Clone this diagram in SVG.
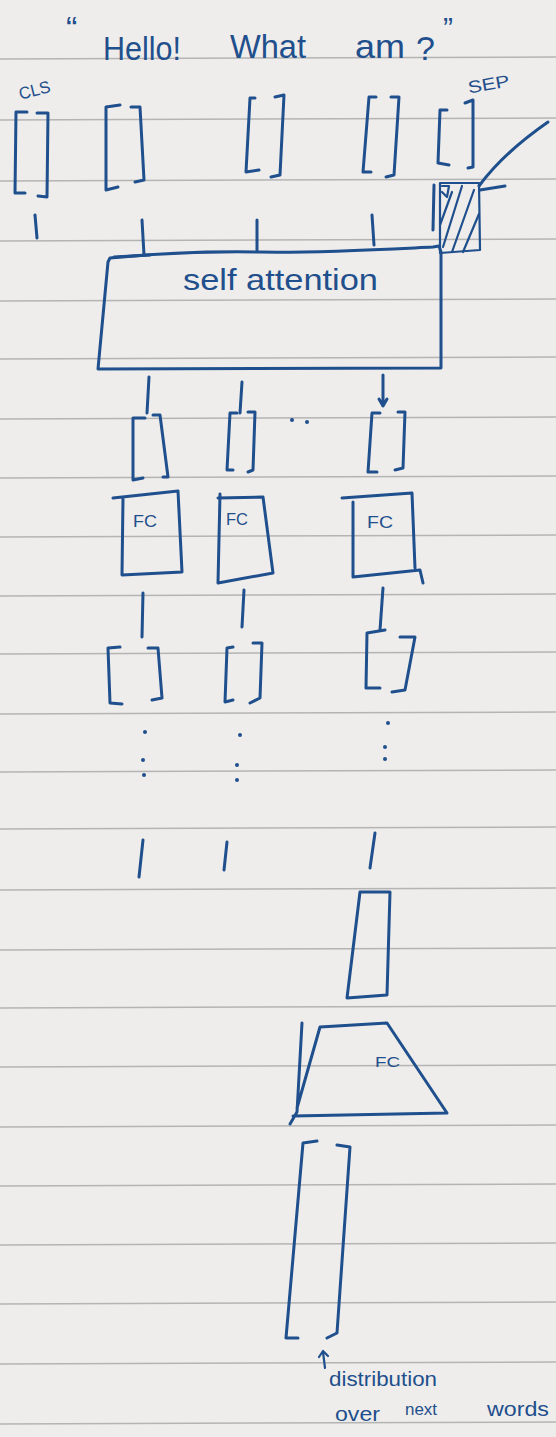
<svg xmlns="http://www.w3.org/2000/svg" width="556" height="1437" viewBox="0 0 556 1437">
<style>
.ink{fill:none;stroke:#1f4f8c;stroke-width:3;stroke-linecap:round;stroke-linejoin:round}
.thin{fill:none;stroke:#1f4f8c;stroke-width:2.2;stroke-linecap:round;stroke-linejoin:round}
.dot{fill:#1f4f8c}
.rule{stroke:#b4b4b4;stroke-width:1.5}
.txt{fill:#1f4f8c;font-family:"Liberation Sans","DejaVu Sans",Arial,sans-serif}
</style>
<rect width="556" height="1437" fill="#eeedeb"/>
<g id="paper-lines">
<line class="rule" x1="0" y1="59" x2="556" y2="57"/>
<line class="rule" x1="0" y1="120" x2="556" y2="118"/>
<line class="rule" x1="0" y1="181" x2="556" y2="179"/>
<line class="rule" x1="0" y1="241" x2="556" y2="239"/>
<line class="rule" x1="0" y1="301" x2="556" y2="299"/>
<line class="rule" x1="0" y1="359" x2="556" y2="357"/>
<line class="rule" x1="0" y1="419" x2="556" y2="417"/>
<line class="rule" x1="0" y1="478" x2="556" y2="476"/>
<line class="rule" x1="0" y1="537" x2="556" y2="535"/>
<line class="rule" x1="0" y1="596" x2="556" y2="594"/>
<line class="rule" x1="0" y1="654" x2="556" y2="652"/>
<line class="rule" x1="0" y1="714" x2="556" y2="712"/>
<line class="rule" x1="0" y1="772" x2="556" y2="770"/>
<line class="rule" x1="0" y1="829" x2="556" y2="827"/>
<line class="rule" x1="0" y1="890" x2="556" y2="888"/>
<line class="rule" x1="0" y1="950" x2="556" y2="948"/>
<line class="rule" x1="0" y1="1008" x2="556" y2="1006"/>
<line class="rule" x1="0" y1="1067" x2="556" y2="1065"/>
<line class="rule" x1="0" y1="1127" x2="556" y2="1125"/>
<line class="rule" x1="0" y1="1186" x2="556" y2="1184"/>
<line class="rule" x1="0" y1="1245" x2="556" y2="1243"/>
<line class="rule" x1="0" y1="1304" x2="556" y2="1302"/>
<line class="rule" x1="0" y1="1364" x2="556" y2="1362"/>
<line class="rule" x1="0" y1="1424" x2="556" y2="1422"/>
</g>

<g id="sentence">
<text class="txt" font-size="34" x="66" y="40">“</text>
<text class="txt" font-size="34" x="103" y="60" textLength="78" lengthAdjust="spacingAndGlyphs">Hello!</text>
<text class="txt" font-size="34" x="230" y="58" textLength="76" lengthAdjust="spacingAndGlyphs">What</text>
<text class="txt" font-size="34" x="355" y="58" textLength="50" lengthAdjust="spacingAndGlyphs">am</text>
<text class="txt" font-size="34" x="416" y="60">?</text>
<text class="txt" font-size="30" x="443" y="38">”</text>
</g>

<g id="cls-token">
<text class="txt" font-size="17" x="18" y="96" textLength="32" lengthAdjust="spacingAndGlyphs" transform="rotate(-14 34 88)">CLS</text>
<path class="ink" d="M27,112 L16,112 L15,193 L25,193 M37,113 L48,113 L47,197 L38,196"/>
</g>
<g id="token-hello">
<path class="ink" d="M120,105 L106,107 L106,190 L118,187 M131,107 L140,107 L144,180 L135,182"/>
</g>
<g id="token-what">
<path class="ink" d="M255,98 L250,98 L246,172 L259,170 M275,97 L284,95 L280,175 L271,177"/>
</g>
<g id="token-am">
<path class="ink" d="M376,97 L369,97 L363,172 L371,172 M391,97 L399,97 L394,175 L386,177"/>
</g>
<g id="sep-token">
<text class="txt" font-size="17" x="467" y="90" textLength="42" lengthAdjust="spacingAndGlyphs" transform="rotate(-10 488 80)">SEP</text>
<path class="ink" d="M447,110 L440,110 L438,163 L449,165 M465,103 L473,100 L473,167 L468,168"/>
</g>
<g id="sep-hatched">
<path class="ink" d="M434,185 L433,230"/>
<path class="thin" d="M440,183 L440,253 L480,250 L479,183 Z"/>
<path class="thin" d="M442,186 L449,186 L447,197 L442,192"/>
<path class="thin" d="M443,247 L462,186 M452,252 L474,190 M463,252 L479,214 M440,225 L452,192"/>
<path class="ink" d="M548,122 C525,138 498,160 479,186"/>
<path class="ink" d="M480,190 L505,186"/>
</g>

<g id="self-attention">
<path class="ink" d="M110,258 C150,254 200,251 260,252 C320,253 390,249 433,247 L439,246 L441,252 L441,368 L98,369 L108,262 Z"/>
<path class="ink" d="M114,257 L150,255"/>
<text class="txt" font-size="30" x="183" y="290" textLength="195" lengthAdjust="spacingAndGlyphs">self attention</text>
</g>

<g id="vec-1">
<path class="ink" d="M145,418 L133,418 L133,480 L143,478 M153,415 L160,415 L168,477 L163,477"/>
</g>
<g id="vec-2">
<path class="ink" d="M237,413 L230,413 L227,470 L233,470 M248,412 L255,412 L253,470 L248,472"/>
</g>
<g id="vec-dots">
<circle class="dot" cx="292" cy="420" r="2"/>
<circle class="dot" cx="307" cy="422" r="2"/>
</g>
<g id="vec-3">
<path class="ink" d="M380,413 L372,413 L368,472 L377,472 M398,412 L405,412 L403,468 L395,470"/>
</g>

<g id="fc-1">
<path class="ink" d="M113,498 L178,491 L182,572 L122,575 L123,498"/>
<text class="txt" font-size="17" x="133" y="527" textLength="24" lengthAdjust="spacingAndGlyphs">FC</text>
</g>
<g id="fc-2">
<path class="ink" d="M218,498 L263,497 L273,573 L218,583 L220,494"/>
<text class="txt" font-size="16" x="226" y="525" textLength="22" lengthAdjust="spacingAndGlyphs">FC</text>
</g>
<g id="fc-3">
<path class="ink" d="M342,498 L412,493 L415,568 M353,502 L353,577 L420,570 L423,583"/>
<text class="txt" font-size="17" x="367" y="528" textLength="26" lengthAdjust="spacingAndGlyphs">FC</text>
</g>

<g id="out-1">
<path class="ink" d="M120,647 L108,648 L110,703 L122,704 M148,648 L158,648 L162,698 L152,700"/>
</g>
<g id="out-2">
<path class="ink" d="M233,647 L227,648 L225,702 L233,700 M253,643 L262,643 L260,698 L250,703"/>
</g>
<g id="out-3">
<path class="ink" d="M385,630 L367,633 L366,688 L380,688 M400,637 L415,637 L405,690 L392,692"/>
</g>

<g id="ellipsis-cols">
<circle class="dot" cx="145" cy="732" r="2"/>
<circle class="dot" cx="143" cy="760" r="2"/>
<circle class="dot" cx="144" cy="775" r="2"/>
<circle class="dot" cx="240" cy="735" r="2"/>
<circle class="dot" cx="237" cy="765" r="2"/>
<circle class="dot" cx="237" cy="780" r="2"/>
<circle class="dot" cx="388" cy="723" r="2"/>
<circle class="dot" cx="385" cy="747" r="2"/>
<circle class="dot" cx="385" cy="759" r="2"/>
</g>

<g id="final-vec">
<path class="ink" d="M360,892 L390,892 L387,995 L347,998 Z"/>
</g>

<g id="fc-final">
<path class="ink" d="M320,1027 L387,1023 L447,1113 L293,1116 M320,1027 L297,1108 M302,1023 L297,1112 L290,1124"/>
<text class="txt" font-size="15" x="375" y="1067" textLength="25" lengthAdjust="spacingAndGlyphs">FC</text>
</g>

<g id="distribution">
<path class="ink" d="M317,1141 L303,1143 L286,1338 L298,1338 M337,1145 L350,1147 L337,1333 L327,1338"/>
<path class="thin" d="M325,1368 L323,1352 M319,1357 L323,1351 L328,1356"/>
<text class="txt" font-size="20" x="329" y="1386" textLength="108" lengthAdjust="spacingAndGlyphs">distribution</text>
<text class="txt" font-size="20" x="335" y="1421" textLength="45" lengthAdjust="spacingAndGlyphs">over</text>
<text class="txt" font-size="16" x="405" y="1415" textLength="32" lengthAdjust="spacingAndGlyphs">next</text>
<text class="txt" font-size="20" x="487" y="1416" textLength="62" lengthAdjust="spacingAndGlyphs">words</text>
</g>

<g id="connectors">
<path class="ink" d="M35,215 L37,238"/>
<path class="ink" d="M142,220 L144,255"/>
<path class="ink" d="M257,220 L257,250"/>
<path class="ink" d="M372,215 L374,245"/>
<path class="ink" d="M149,377 L147,413"/>
<path class="ink" d="M242,382 L240,413"/>
<path class="ink" d="M383,375 L383,405 M379,399 L383,406 L387,399"/>
<path class="ink" d="M143,593 L142,637"/>
<path class="ink" d="M244,590 L242,627"/>
<path class="ink" d="M383,588 L380,630"/>
<path class="ink" d="M143,840 L139,877"/>
<path class="ink" d="M227,842 L224,870"/>
<path class="ink" d="M375,833 L370,868"/>
</g>
</svg>
